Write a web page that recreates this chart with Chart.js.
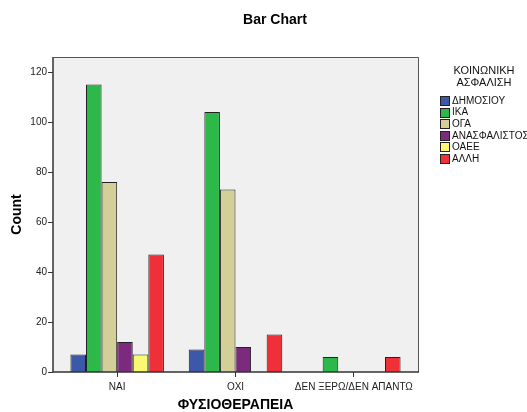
<!DOCTYPE html>
<html>
<head>
<meta charset="utf-8">
<script src="https://cdn.jsdelivr.net/npm/chart.js@4/dist/chart.umd.min.js"></script>
<style>
  html, body { margin: 0; padding: 0; background: #ffffff; }
  #wrap { width: 527px; height: 412px; position: relative; }
</style>
</head>
<body>
<div id="wrap"><canvas id="c" width="527" height="412"></canvas></div>
<script>
// ---- data ----
const categories = ['ΝΑΙ', 'ΟΧΙ', 'ΔΕΝ ΞΕΡΩ/ΔΕΝ ΑΠΑΝΤΩ'];
const seriesNames = ['ΔΗΜΟΣΙΟΥ', 'ΙΚΑ', 'ΟΓΑ', 'ΑΝΑΣΦΑΛΙΣΤΟΣ', 'ΟΑΕΕ', 'ΑΛΛΗ'];
const dimosiou     = [7, 9, null];
const ika          = [115, 104, 6];
const oga          = [76, 73, null];
const anasfalistos = [12, 10, null];
const oaee         = [7, null, null];
const alli         = [47, 15, 6];
const yTicks = [0, 20, 40, 60, 80, 100, 120];
const chartTitle = 'Bar Chart';
const legendTitle = ['ΚΟΙΝΩΝΙΚΗ', 'ΑΣΦΑΛΙΣΗ'];
const xTitle = 'ΦΥΣΙΟΘΕΡΑΠΕΙΑ';
const yTitle = 'Count';

const seriesValues = [dimosiou, ika, oga, anasfalistos, oaee, alli];
const colors = ['#3d58a9', '#2db84a', '#d4cf98', '#7d2a7e', '#fbf871', '#ef3039'];

const FONT = "'Liberation Sans', Arial, sans-serif";

const frame = { left: 53, right: 418 };

const decor = {
  id: 'decor',
  beforeDraw(chart) {
    const { ctx, chartArea } = chart;
    ctx.save();
    ctx.fillStyle = '#ffffff';
    ctx.fillRect(0, 0, chart.width, chart.height);
    ctx.fillStyle = '#f0f0f0';
    ctx.fillRect(frame.left, chartArea.top, frame.right - frame.left, chartArea.bottom - chartArea.top);
    ctx.restore();
  },
  afterDraw(chart) {
    const { ctx, chartArea, scales } = chart;
    ctx.save();
    // frame
    ctx.lineWidth = 1;
    ctx.strokeStyle = '#555555';
    ctx.beginPath();
    ctx.moveTo(frame.left + 0.5, chartArea.top + 0.5);
    ctx.lineTo(frame.right + 0.5, chartArea.top + 0.5);
    ctx.lineTo(frame.right + 0.5, chartArea.bottom);
    ctx.stroke();
    ctx.strokeStyle = '#333333';
    ctx.lineWidth = 1.5;
    ctx.beginPath();
    ctx.moveTo(frame.left, chartArea.top);
    ctx.lineTo(frame.left, chartArea.bottom);
    ctx.lineTo(frame.right + 1, chartArea.bottom);
    ctx.stroke();
    // y tick marks
    ctx.lineWidth = 1;
    ctx.strokeStyle = '#333333';
    yTicks.forEach(v => {
      const y = Math.round(scales.y.getPixelForValue(v)) + 0.5;
      ctx.beginPath();
      ctx.moveTo(frame.left - 5, y);
      ctx.lineTo(frame.left, y);
      ctx.stroke();
    });
    // chart title
    ctx.fillStyle = '#000000';
    ctx.font = 'bold 14px ' + FONT;
    ctx.textAlign = 'center';
    ctx.textBaseline = 'middle';
    ctx.fillText(chartTitle, 275, 20);
    // legend
    ctx.font = '11px ' + FONT;
    ctx.fillStyle = '#111111';
    legendTitle.forEach((t, i) => ctx.fillText(t, 484, 71 + i * 12));
    ctx.textAlign = 'left';
    ctx.font = '10px ' + FONT;
    chart.data.datasets.forEach((ds, i) => {
      const cy = 100.5 + i * 11.6;
      ctx.fillStyle = ds.backgroundColor;
      ctx.fillRect(440, Math.round(cy - 4.5), 9, 9);
      ctx.strokeStyle = '#222222';
      ctx.lineWidth = 1;
      ctx.strokeRect(440.5, Math.round(cy - 4.5) + 0.5, 9, 9);
      ctx.fillStyle = '#111111';
      ctx.fillText(ds.label, 452, cy + 0.5);
    });
    ctx.restore();
  }
};

new Chart(document.getElementById('c'), {
  type: 'bar',
  data: {
    labels: categories,
    datasets: seriesNames.map((name, i) => ({
      label: name,
      data: seriesValues[i],
      backgroundColor: colors[i],
      borderColor: '#222222',
      borderWidth: 1,
      categoryPercentage: 0.79,
      barPercentage: 1.0
    }))
  },
  options: {
    responsive: false,
    animation: false,
    devicePixelRatio: 1,
    layout: { padding: { top: 57, right: 114, left: 0, bottom: 0 } },
    plugins: {
      legend: { display: false },
      title: { display: false },
      tooltip: { enabled: false }
    },
    scales: {
      x: {
        afterFit(s) { s.height = 40; },
        grid: { display: true, offset: false, drawOnChartArea: false, drawTicks: true, tickLength: 5, color: '#333333' },
        border: { display: false },
        ticks: { font: { family: FONT, size: 10 }, color: '#222222', padding: 4, maxRotation: 0, autoSkip: false },
        title: {
          display: true, text: xTitle, color: '#000000',
          font: { family: FONT, size: 14, weight: 'bold', lineHeight: 1 },
          padding: { top: 0, bottom: 0 }
        }
      },
      y: {
        min: 0,
        max: 126,
        afterFit(s) { s.width = 58; },
        afterBuildTicks(s) { s.ticks = yTicks.map(v => ({ value: v })); },
        grid: { display: false, drawTicks: false },
        border: { display: false },
        ticks: { font: { family: FONT, size: 10 }, color: '#222222', padding: 11, includeBounds: false },
        title: {
          display: true, text: yTitle, color: '#000000',
          font: { family: FONT, size: 14, weight: 'bold', lineHeight: 1 },
          padding: { top: 10, bottom: 0 }
        }
      }
    }
  },
  plugins: [decor]
});
</script>
</body>
</html>
